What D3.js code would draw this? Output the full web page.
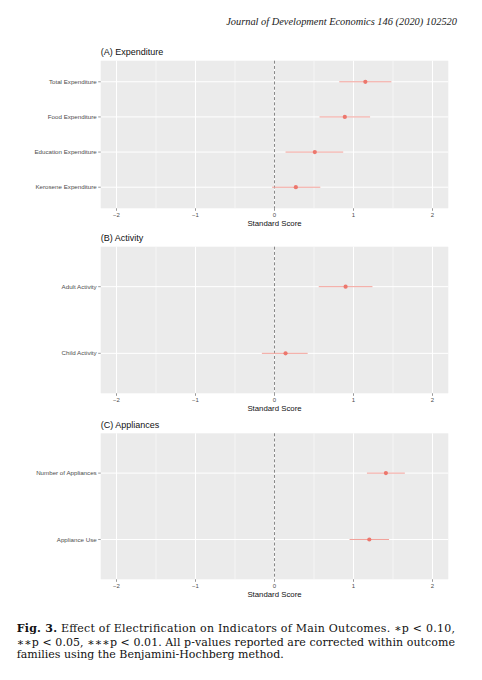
<!DOCTYPE html>
<html>
<head>
<meta charset="utf-8">
<script src="https://cdn.jsdelivr.net/npm/d3@7"></script>
<style>
  body { margin: 0; background: #fff; }
  svg { display: block; }
</style>
</head>
<body>
<script>
// panel A
var expCats = ["Total Expenditure", "Food Expenditure", "Education Expenditure", "Kerosene Expenditure"];
var expEst = [1.15, 0.89, 0.51, 0.27];
var expLo = [0.82, 0.57, 0.14, -0.03];
var expHi = [1.48, 1.21, 0.87, 0.58];

// panel B
var actCats = ["Adult Activity", "Child Activity"];
var actEst = [0.90, 0.14];
var actLo = [0.56, -0.16];
var actHi = [1.24, 0.42];

// panel C
var appCats = ["Number of Appliances", "Appliance Use"];
var appEst = [1.41, 1.20];
var appLo = [1.17, 0.95];
var appHi = [1.65, 1.45];

var xTicks = [-2, -1, 0, 1, 2];
var xMinor = [-1.5, -0.5, 0.5, 1.5];

var W = 482, H = 680;
var svg = d3.select("body").append("svg").attr("width", W).attr("height", H);
svg.append("rect").attr("width", W).attr("height", H).attr("fill", "#fff");

// journal header
svg.append("text")
  .attr("x", 457).attr("y", 25)
  .attr("text-anchor", "end")
  .attr("font-family", "Liberation Serif, serif")
  .attr("font-style", "italic")
  .attr("font-size", 10.4)
  .attr("fill", "#222")
  .text("Journal of Development Economics 146 (2020) 102520");

var left = 100.7, right = 448.3;
var x = d3.scaleLinear().domain([-2.2, 2.2]).range([left, right]);

function panel(title, cats, est, lo, hi, top, bottom) {
  var g = svg.append("g");
  var n = cats.length;
  // ggplot style discrete scale: first category on top, 0.6 padding
  var y = d3.scaleLinear().domain([0.4, n + 0.6]).range([top, bottom]);
  var yPos = function(i) { return y(i + 1); };

  g.append("rect")
    .attr("x", left).attr("y", top)
    .attr("width", right - left).attr("height", bottom - top)
    .attr("fill", "#EBEBEB");

  //minor grid
  g.selectAll(".minor").data(xMinor).enter().append("line")
    .attr("x1", d => x(d)).attr("x2", d => x(d))
    .attr("y1", top).attr("y2", bottom)
    .attr("stroke", "#fff").attr("stroke-width", 0.5);
  // major grid
  g.selectAll(".major").data(xTicks).enter().append("line")
    .attr("x1", d => x(d)).attr("x2", d => x(d))
    .attr("y1", top).attr("y2", bottom)
    .attr("stroke", "#fff").attr("stroke-width", 1);
  g.selectAll(".hgrid").data(cats).enter().append("line")
    .attr("x1", left).attr("x2", right)
    .attr("y1", (d, i) => yPos(i)).attr("y2", (d, i) => yPos(i))
    .attr("stroke", "#fff").attr("stroke-width", 1);

  // zero line
  g.append("line")
    .attr("x1", x(0)).attr("x2", x(0))
    .attr("y1", top).attr("y2", bottom)
    .attr("stroke", "#555").attr("stroke-width", 0.7)
    .attr("stroke-dasharray", "3,2.2");

  // error bars
  g.selectAll(".ci").data(cats).enter().append("line")
    .attr("x1", (d, i) => x(lo[i])).attr("x2", (d, i) => x(hi[i]))
    .attr("y1", (d, i) => yPos(i)).attr("y2", (d, i) => yPos(i))
    .attr("stroke", "#F2A19A").attr("stroke-width", 1);
  g.selectAll(".pt").data(cats).enter().append("circle")
    .attr("cx", (d, i) => x(est[i])).attr("cy", (d, i) => yPos(i))
    .attr("r", 2.1)
    .attr("fill", "#EC776D");

  // y axis
  var ya = g.append("g");
  ya.selectAll("line").data(cats).enter().append("line")
    .attr("x1", left - 2.5).attr("x2", left)
    .attr("y1", (d, i) => yPos(i)).attr("y2", (d, i) => yPos(i))
    .attr("stroke", "#333").attr("stroke-width", 0.5);
  ya.selectAll("text").data(cats).enter().append("text")
    .attr("x", left - 4).attr("y", (d, i) => yPos(i))
    .attr("dy", "0.35em")
    .attr("text-anchor", "end")
    .attr("font-family", "Liberation Sans, Arial, sans-serif")
    .attr("font-size", 6.2)
    .attr("fill", "#4D4D4D")
    .text(d => d);

  // x axis
  var xa = g.append("g");
  xa.selectAll("line").data(xTicks).enter().append("line")
    .attr("x1", d => x(d)).attr("x2", d => x(d))
    .attr("y1", bottom).attr("y2", bottom + 2.5)
    .attr("stroke", "#333").attr("stroke-width", 0.5);
  xa.selectAll("text").data(xTicks).enter().append("text")
    .attr("x", d => x(d)).attr("y", bottom + 8.4)
    .attr("text-anchor", "middle")
    .attr("font-family", "Liberation Sans, Arial, sans-serif")
    .attr("font-size", 6)
    .attr("fill", "#4D4D4D")
    .text(d => d < 0 ? "\u2212" + Math.abs(d) : d);

  g.append("text")
    .attr("x", (left + right) / 2).attr("y", bottom + 17.3)
    .attr("text-anchor", "middle")
    .attr("font-family", "Liberation Sans, Arial, sans-serif")
    .attr("font-size", 7.8)
    .attr("fill", "#111")
    .text("Standard Score");

  g.append("text")
    .attr("x", left).attr("y", top - 5.5)
    .attr("font-family", "Liberation Sans, Arial, sans-serif")
    .attr("font-size", 9)
    .attr("fill", "#111")
    .text(title);
}

panel("(A) Expenditure", expCats, expEst, expLo, expHi, 60.7, 208.3);
panel("(B) Activity", actCats, actEst, actLo, actHi, 246.7, 393.3);
panel("(C) Appliances", appCats, appEst, appLo, appHi, 433.3, 579.3);

// caption
var cap = svg.append("g")
  .attr("font-family", "DejaVu Serif, serif")
  .attr("font-size", 11)
  .attr("fill", "#111");
var l1 = cap.append("text").attr("x", 16.7).attr("y", 632)
  .attr("textLength", 438.3).attr("lengthAdjust", "spacing");
l1.append("tspan").attr("font-weight", "bold").text("Fig. 3.");
l1.append("tspan").text(" Effect of Electrification on Indicators of Main Outcomes. \u2217p < 0.10,");
cap.append("text").attr("x", 16.7).attr("y", 645.5)
  .attr("textLength", 438.3).attr("lengthAdjust", "spacing")
  .text("\u2217\u2217p < 0.05, \u2217\u2217\u2217p < 0.01. All p-values reported are corrected within outcome");
cap.append("text").attr("x", 16.7).attr("y", 658)
  .text("families using the Benjamini-Hochberg method.");
</script>
</body>
</html>
